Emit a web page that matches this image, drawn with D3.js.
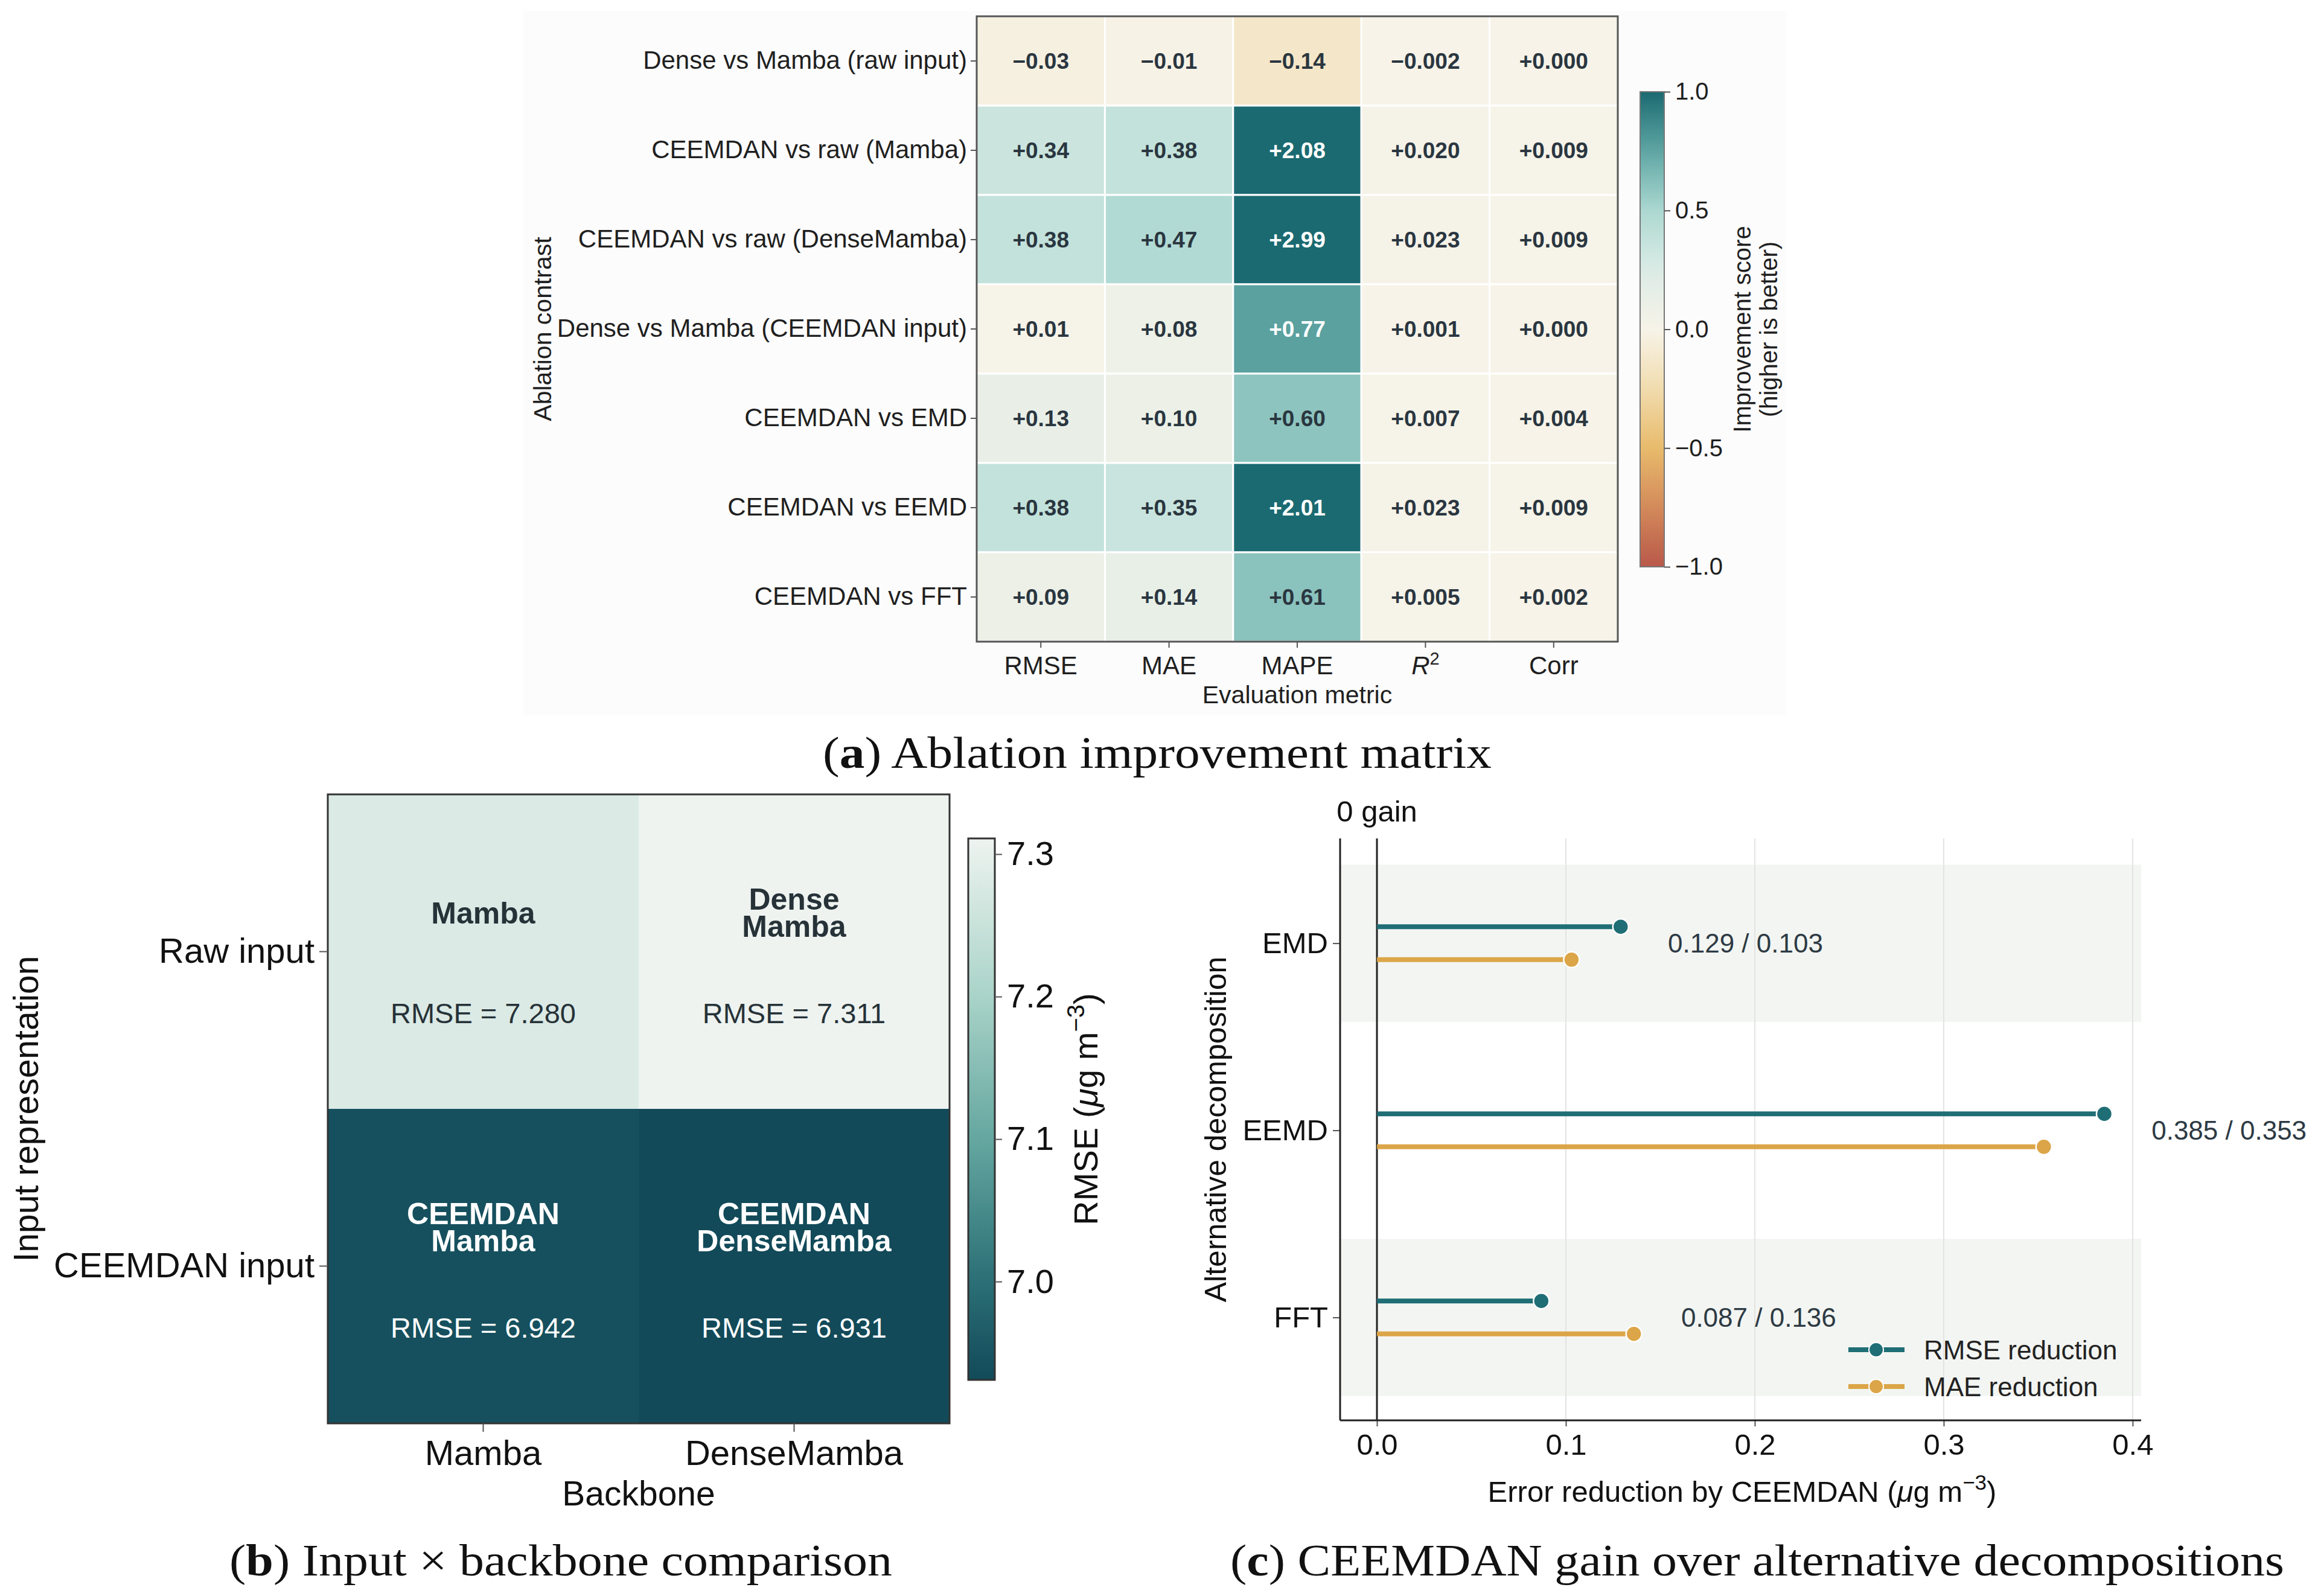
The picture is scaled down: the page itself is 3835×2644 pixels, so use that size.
<!DOCTYPE html>
<html>
<head>
<meta charset="utf-8">
<script src="https://cdn.jsdelivr.net/npm/d3@7"></script>
<style>
  html, body { margin: 0; padding: 0; background: #ffffff; }
  svg { display: block; }
  text { font-family: "Liberation Sans", Arial, sans-serif; }
  text.caption { font-family: "Liberation Serif", "Times New Roman", serif; }
</style>
</head>
<body>
<script>
// ---------------- DATA ----------------
const ablationRows = [
  "Dense vs Mamba (raw input)",
  "CEEMDAN vs raw (Mamba)",
  "CEEMDAN vs raw (DenseMamba)",
  "Dense vs Mamba (CEEMDAN input)",
  "CEEMDAN vs EMD",
  "CEEMDAN vs EEMD",
  "CEEMDAN vs FFT"
];
const ablationMetrics = ["RMSE", "MAE", "MAPE", "R2", "Corr"];
const metricDecimals = [2, 2, 2, 3, 3];
const ablationValues = [
  [-0.03, -0.01, -0.14, -0.002, 0.000],
  [0.34, 0.38, 2.08, 0.020, 0.009],
  [0.38, 0.47, 2.99, 0.023, 0.009],
  [0.01, 0.08, 0.77, 0.001, 0.000],
  [0.13, 0.10, 0.60, 0.007, 0.004],
  [0.38, 0.35, 2.01, 0.023, 0.009],
  [0.09, 0.14, 0.61, 0.005, 0.002]
];
const improvementTicks = [-1.0, -0.5, 0.0, 0.5, 1.0];

const backbones = ["Mamba", "DenseMamba"];
const inputReps = ["Raw input", "CEEMDAN input"];
const rmseGrid = [
  [7.280, 7.311],
  [6.942, 6.931]
];
const cellTitles = [
  [["Mamba"], ["Dense", "Mamba"]],
  [["CEEMDAN", "Mamba"], ["CEEMDAN", "DenseMamba"]]
];
const rmseTicks = [7.0, 7.1, 7.2, 7.3];

const decomps = ["EMD", "EEMD", "FFT"];
const rmseReduction = [0.129, 0.385, 0.087];
const maeReduction = [0.103, 0.353, 0.136];
const gainTicks = [0.0, 0.1, 0.2, 0.3, 0.4];

// ---------------- SETUP ----------------
const W = 3835, H = 2644;
const svg = d3.select("body").append("svg").attr("width", W).attr("height", H);
const defs = svg.append("defs");
const DARK = "#1f1f1f";
const CELLTXT = "#2a3640";

function styleAxis(g, fs, col) {
  g.select(".domain").remove();
  g.selectAll(".tick line").attr("stroke", "#555").attr("stroke-width", 2);
  g.selectAll(".tick text").attr("font-size", fs).attr("fill", col || DARK);
}

// ---------------- PANEL A ----------------
const A = { x0: 1618, x1: 2680, y0: 27, y1: 1063 };
svg.append("rect").attr("x", 867).attr("y", 18).attr("width", 2093).attr("height", 1167).attr("fill", "#fcfcfc");

const ax = d3.scaleBand().domain(ablationMetrics).range([A.x0, A.x1]);
const ay = d3.scaleBand().domain(ablationRows).range([A.y0, A.y1]);
const divColor = d3.scaleLinear()
  .domain([-1, -0.75, -0.5, -0.25, 0, 0.25, 0.5, 0.75, 1])
  .range(["#b9584a", "#d38a5a", "#e8bb6c", "#f1dcae", "#f7f3e8", "#dcece6", "#acd8d1", "#5fa6a4", "#1b6a71"])
  .clamp(true);

const gA = svg.append("g");
const cells = ablationRows.flatMap((r, i) => ablationMetrics.map((m, j) => ({ r, m, v: ablationValues[i][j], dec: metricDecimals[j] })));
gA.selectAll("rect.cell").data(cells).join("rect")
  .attr("x", d => ax(d.m)).attr("y", d => ay(d.r))
  .attr("width", ax.bandwidth()).attr("height", ay.bandwidth())
  .attr("fill", d => divColor(d.v))
  .attr("stroke", "#ffffff").attr("stroke-width", 3);
gA.selectAll("text.cv").data(cells).join("text")
  .attr("x", d => ax(d.m) + ax.bandwidth() / 2)
  .attr("y", d => ay(d.r) + ay.bandwidth() / 2)
  .attr("text-anchor", "middle").attr("dominant-baseline", "central")
  .attr("font-size", 37).attr("font-weight", "bold")
  .attr("fill", d => Math.abs(d.v) > 0.7 ? "#ffffff" : CELLTXT)
  .text(d => (d.v < 0 ? "\u2212" : "+") + Math.abs(d.v).toFixed(d.dec));
gA.append("rect").attr("x", A.x0).attr("y", A.y0).attr("width", A.x1 - A.x0).attr("height", A.y1 - A.y0)
  .attr("fill", "none").attr("stroke", "#555").attr("stroke-width", 3);

const aLeft = gA.append("g").attr("transform", `translate(${A.x0},0)`)
  .call(d3.axisLeft(ay).tickSize(10).tickPadding(6));
styleAxis(aLeft, 42);
const aBottom = gA.append("g").attr("transform", `translate(0,${A.y1})`)
  .call(d3.axisBottom(ax).tickSize(10).tickPadding(14));
styleAxis(aBottom, 42);
aBottom.selectAll(".tick text").each(function (d) {
  if (d === "R2") {
    const t = d3.select(this).text("");
    t.append("tspan").attr("font-style", "italic").text("R");
    t.append("tspan").attr("font-size", 29).attr("dy", -16).text("2");
  }
});
gA.append("text").attr("x", (A.x0 + A.x1) / 2).attr("y", 1165).attr("text-anchor", "middle")
  .attr("font-size", 41).attr("fill", DARK).text("Evaluation metric");
gA.append("text").attr("transform", `translate(913,${(A.y0 + A.y1) / 2}) rotate(-90)`)
  .attr("text-anchor", "middle").attr("font-size", 41).attr("fill", DARK).text("Ablation contrast");

// colorbar A
const cbA = { x: 2717, w: 40, y0: 152, y1: 939 };
const gradA = defs.append("linearGradient").attr("id", "gradA").attr("x1", 0).attr("y1", 1).attr("x2", 0).attr("y2", 0);
d3.range(0, 1.0001, 0.05).forEach(t => gradA.append("stop").attr("offset", t).attr("stop-color", divColor(-1 + 2 * t)));
const cyA = d3.scaleLinear().domain([-1, 1]).range([cbA.y1, cbA.y0]);
gA.append("rect").attr("x", cbA.x).attr("y", cbA.y0).attr("width", cbA.w).attr("height", cbA.y1 - cbA.y0)
  .attr("fill", "url(#gradA)").attr("stroke", "#777").attr("stroke-width", 2);
const cbAxA = gA.append("g").attr("transform", `translate(${cbA.x + cbA.w},0)`)
  .call(d3.axisRight(cyA).tickValues(improvementTicks).tickFormat(d3.format(".1f")).tickSize(10).tickPadding(8));
styleAxis(cbAxA, 40);
gA.append("text").attr("transform", `translate(2900,${(cbA.y0 + cbA.y1) / 2}) rotate(-90)`)
  .attr("text-anchor", "middle").attr("font-size", 40).attr("fill", DARK).text("Improvement score");
gA.append("text").attr("transform", `translate(2944,${(cbA.y0 + cbA.y1) / 2}) rotate(-90)`)
  .attr("text-anchor", "middle").attr("font-size", 40).attr("fill", DARK).text("(higher is better)");

// captions
function caption(cx, y, letter, rest, len) {
  const t = svg.append("text").attr("class", "caption").attr("x", cx).attr("y", y).attr("text-anchor", "middle")
    .attr("font-size", 74).attr("fill", "#111")
    .attr("textLength", len).attr("lengthAdjust", "spacingAndGlyphs");
  t.append("tspan").text("(");
  t.append("tspan").attr("font-weight", "bold").text(letter);
  t.append("tspan").text(") " + rest);
}
caption(1917, 1272, "a", "Ablation improvement matrix", 1108);

// ---------------- PANEL B ----------------
const B = { x0: 543, x1: 1573, y0: 1316, y1: 2358 };
const bx = d3.scaleBand().domain(backbones).range([B.x0, B.x1]);
const by = d3.scaleBand().domain(inputReps).range([B.y0, B.y1]);
const rmseExtent = [6.931, 7.311];
const seqColor = d3.scaleLinear()
  .domain([6.931, 7.0, 7.1, 7.2, 7.311])
  .range(["#124a59", "#2b6f76", "#65a7a0", "#a9d3c8", "#eef3f0"]);
const gB = svg.append("g");
const bcells = inputReps.flatMap((r, i) => backbones.map((b, j) => ({ r, b, v: rmseGrid[i][j], title: cellTitles[i][j] })));
gB.selectAll("rect.cell").data(bcells).join("rect")
  .attr("x", d => bx(d.b)).attr("y", d => by(d.r))
  .attr("width", bx.bandwidth()).attr("height", by.bandwidth())
  .attr("fill", d => seqColor(d.v));
bcells.forEach(d => {
  const cx = bx(d.b) + bx.bandwidth() / 2;
  const cy = by(d.r) + by.bandwidth() / 2;
  const col = d.v < 7.1 ? "#ffffff" : "#263238";
  const n = d.title.length;
  const tt = gB.append("text").attr("x", cx).attr("y", cy - 64 - (n - 1) / 2 * 45)
    .attr("text-anchor", "middle").attr("dominant-baseline", "central")
    .attr("font-size", 50).attr("font-weight", "bold").attr("fill", col);
  d.title.forEach((line, k) => {
    tt.append("tspan").attr("x", cx).attr("dy", k === 0 ? 0 : 45).text(line);
  });
  gB.append("text").attr("x", cx).attr("y", cy + 102)
    .attr("text-anchor", "middle").attr("dominant-baseline", "central")
    .attr("font-size", 47).attr("fill", col).text("RMSE = " + d.v.toFixed(3));
});
gB.append("rect").attr("x", B.x0).attr("y", B.y0).attr("width", B.x1 - B.x0).attr("height", B.y1 - B.y0)
  .attr("fill", "none").attr("stroke", "#333").attr("stroke-width", 3);
const bLeft = gB.append("g").attr("transform", `translate(${B.x0},0)`)
  .call(d3.axisLeft(by).tickSize(14).tickPadding(8));
styleAxis(bLeft, 58, "#111");
const bBottom = gB.append("g").attr("transform", `translate(0,${B.y1})`)
  .call(d3.axisBottom(bx).tickSize(14).tickPadding(14));
styleAxis(bBottom, 58, "#111");
gB.append("text").attr("x", (B.x0 + B.x1) / 2).attr("y", 2494).attr("text-anchor", "middle")
  .attr("font-size", 57).attr("fill", "#111").text("Backbone");
gB.append("text").attr("transform", `translate(63,${(B.y0 + B.y1) / 2}) rotate(-90)`)
  .attr("text-anchor", "middle").attr("font-size", 57).attr("fill", "#111").text("Input representation");

// colorbar B
const cbB = { x: 1604, w: 44, y0: 1389, y1: 2286 };
const gradB = defs.append("linearGradient").attr("id", "gradB").attr("x1", 0).attr("y1", 1).attr("x2", 0).attr("y2", 0);
d3.range(0, 1.0001, 0.05).forEach(t => gradB.append("stop").attr("offset", t)
  .attr("stop-color", seqColor(rmseExtent[0] + t * (rmseExtent[1] - rmseExtent[0]))));
const cyB = d3.scaleLinear().domain(rmseExtent).range([cbB.y1, cbB.y0]);
gB.append("rect").attr("x", cbB.x).attr("y", cbB.y0).attr("width", cbB.w).attr("height", cbB.y1 - cbB.y0)
  .attr("fill", "url(#gradB)").attr("stroke", "#333").attr("stroke-width", 3);
const cbAxB = gB.append("g").attr("transform", `translate(${cbB.x + cbB.w},0)`)
  .call(d3.axisRight(cyB).tickValues(rmseTicks).tickFormat(d3.format(".1f")).tickSize(12).tickPadding(8));
styleAxis(cbAxB, 56, "#111");
{
  const t = gB.append("text").attr("transform", `translate(1818,${(cbB.y0 + cbB.y1) / 2}) rotate(-90)`)
    .attr("text-anchor", "middle").attr("font-size", 56).attr("fill", "#111");
  t.append("tspan").text("RMSE (");
  t.append("tspan").attr("font-style", "italic").text("\u03bc");
  t.append("tspan").text("g m");
  t.append("tspan").attr("font-size", 40).attr("dy", -22).text("\u22123");
  t.append("tspan").attr("dy", 22).text(")");
}
caption(929, 2610, "b", "Input \u00d7 backbone comparison", 1098);

// ---------------- PANEL C ----------------
const C = { x0: 2220, x1: 3547, y0: 1389, y1: 2353 };
const cx = d3.scaleLinear().domain([-0.0195, 0.4045]).range([C.x0, C.x1]);
const cy = d3.scaleLinear().domain([-0.56, 2.55]).range([C.y0, C.y1]);
const TEAL = "#1f6e76", ORANGE = "#dba548";
const off = 0.088;
const gC = svg.append("g");
// bands
gC.selectAll("rect.band").data(decomps.filter((d, i) => i % 2 === 0)).join("rect")
  .attr("x", C.x0).attr("width", C.x1 - C.x0)
  .attr("y", d => cy(decomps.indexOf(d) - 0.42))
  .attr("height", cy(0.84) - cy(0))
  .attr("fill", "#f3f5f2");
// gridlines
gC.selectAll("line.grid").data(gainTicks.filter(t => t > 0)).join("line")
  .attr("x1", d => cx(d)).attr("x2", d => cx(d)).attr("y1", C.y0).attr("y2", C.y1)
  .attr("stroke", "#e3e3e3").attr("stroke-width", 2);
// zero line
gC.append("line").attr("x1", cx(0)).attr("x2", cx(0)).attr("y1", C.y0).attr("y2", C.y1)
  .attr("stroke", "#222").attr("stroke-width", 3);
gC.append("text").attr("x", cx(0)).attr("y", 1361).attr("text-anchor", "middle")
  .attr("font-size", 49).attr("fill", "#111").text("0 gain");
// axes
const cBottom = gC.append("g").attr("transform", `translate(0,${C.y1})`)
  .call(d3.axisBottom(cx).tickValues(gainTicks).tickFormat(d3.format(".1f")).tickSize(10).tickPadding(12));
styleAxis(cBottom, 49, "#111");
const cLeft = gC.append("g").attr("transform", `translate(${C.x0},0)`)
  .call(d3.axisLeft(cy).tickValues(decomps.map((d, i) => i)).tickFormat(i => decomps[i]).tickSize(12).tickPadding(8));
styleAxis(cLeft, 49, "#111");
gC.append("line").attr("x1", C.x0).attr("x2", C.x1).attr("y1", C.y1).attr("y2", C.y1).attr("stroke", "#222").attr("stroke-width", 3);
gC.append("line").attr("x1", C.x0).attr("x2", C.x0).attr("y1", C.y0).attr("y2", C.y1).attr("stroke", "#222").attr("stroke-width", 3);
// lollipops
const series = [
  { name: "RMSE reduction", vals: rmseReduction, color: TEAL, dy: -off },
  { name: "MAE reduction", vals: maeReduction, color: ORANGE, dy: off }
];
series.forEach(s => {
  gC.selectAll(null).data(s.vals).join("line")
    .attr("x1", cx(0)).attr("x2", d => cx(d))
    .attr("y1", (d, i) => cy(i + s.dy)).attr("y2", (d, i) => cy(i + s.dy))
    .attr("stroke", s.color).attr("stroke-width", 8);
  gC.selectAll(null).data(s.vals).join("circle")
    .attr("cx", d => cx(d)).attr("cy", (d, i) => cy(i + s.dy)).attr("r", 13)
    .attr("fill", s.color).attr("stroke", "#ffffff").attr("stroke-width", 2.5);
});
// annotations
gC.selectAll("text.ann").data(decomps).join("text")
  .attr("x", (d, i) => cx(Math.max(rmseReduction[i], maeReduction[i]) + 0.025))
  .attr("y", (d, i) => cy(i)).attr("dominant-baseline", "central")
  .attr("font-size", 44).attr("fill", "#2d3a44")
  .text((d, i) => rmseReduction[i].toFixed(3) + " / " + maeReduction[i].toFixed(3));
// legend
series.forEach((s, k) => {
  const ly = 2236 + k * 61;
  gC.append("line").attr("x1", 3062).attr("x2", 3155).attr("y1", ly).attr("y2", ly)
    .attr("stroke", s.color).attr("stroke-width", 8);
  gC.append("circle").attr("cx", 3108).attr("cy", ly).attr("r", 12).attr("fill", s.color)
    .attr("stroke", "#fff").attr("stroke-width", 2);
  gC.append("text").attr("x", 3187).attr("y", ly).attr("dominant-baseline", "central")
    .attr("font-size", 44).attr("fill", "#222").text(s.name);
});
// axis titles
{
  const t = gC.append("text").attr("x", 2886).attr("y", 2488).attr("text-anchor", "middle")
    .attr("font-size", 49).attr("fill", "#111");
  t.append("tspan").text("Error reduction by CEEMDAN (");
  t.append("tspan").attr("font-style", "italic").text("\u03bc");
  t.append("tspan").text("g m");
  t.append("tspan").attr("font-size", 35).attr("dy", -20).text("\u22123");
  t.append("tspan").attr("dy", 20).text(")");
}
gC.append("text").attr("transform", `translate(2031,${(C.y0 + C.y1) / 2}) rotate(-90)`)
  .attr("text-anchor", "middle").attr("font-size", 50).attr("fill", "#111").text("Alternative decomposition");
caption(2911, 2610, "c", "CEEMDAN gain over alternative decompositions", 1746);
</script>
</body>
</html>
